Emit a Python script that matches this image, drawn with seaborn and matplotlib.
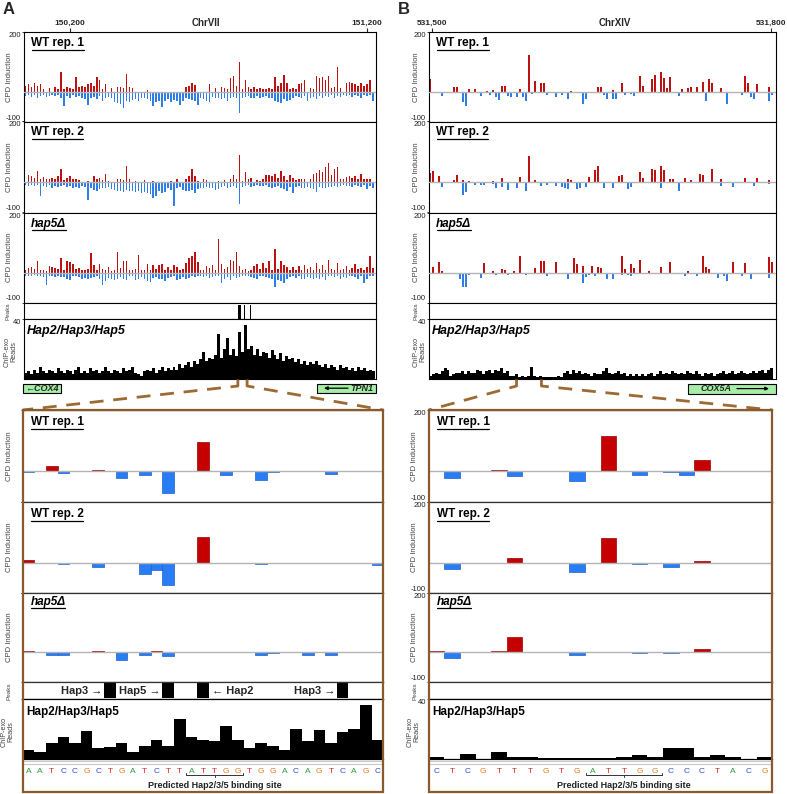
import numpy as np
import matplotlib
matplotlib.use("Agg")
import matplotlib.pyplot as plt
import seaborn as sns
from matplotlib.patches import Rectangle

# ======================= DATA =======================
# Panel A overview (ChrVII) - 10 bp bins
A_START, A_STEP = 150050, 10
A_XLIM = (150045, 151230)
A_TICKS = [150200, 151200]
A_TICK_LABELS = ["150,200", "151,200"]
A_CHROM = "ChrVII"

A_wt1_up = [20, 25, 15, 30, 20, 25, 10, 0, 12, 0,
            15, 10, 65, 8, 15, 12, 10, 50, 15, 20,
            15, 25, 30, 20, 48, 40, 10, 25, 0, 12,
            0, 15, 15, 12, 58, 15, 12, 0, 0, 0,
            0, 5, 0, 0, 0, 0, 0, 0, 0, 0,
            0, 0, 0, 0, 15, 20, 28, 22, 0, 0,
            0, 0, 25, 0, 12, 0, 15, 12, 8, 45,
            52, 20, 98, 10, 38, 15, 10, 15, 8, 12,
            10, 8, 12, 10, 50, 20, 30, 55, 28, 10,
            12, 10, 25, 30, 40, 0, 12, 10, 52, 45,
            50, 38, 54, 12, 15, 82, 12, 0, 30, 32,
            28, 25, 20, 30, 18, 25, 40, 0]
A_wt1_dn = [15, 12, 18, 10, 20, 15, 12, 18, 15, 10,
            15, 12, 20, 48, 15, 20, 12, 18, 15, 20,
            25, 45, 20, 18, 25, 15, 30, 20, 18, 22,
            35, 38, 40, 54, 30, 35, 28, 25, 30, 22,
            20, 25, 30, 48, 35, 30, 53, 30, 25, 35,
            28, 30, 45, 30, 20, 25, 28, 30, 45, 20,
            25, 30, 35, 18, 22, 20, 25, 20, 30, 22,
            18, 20, 73, 20, 18, 15, 20, 22, 15, 20,
            18, 15, 20, 22, 30, 35, 38, 25, 30, 28,
            20, 15, 18, 22, 15, 30, 20, 18, 25, 15,
            20, 15, 18, 12, 20, 15, 18, 12, 15, 10,
            18, 12, 15, 20, 12, 15, 10, 30]
A_wt2_up = [0, 22, 20, 15, 36, 10, 18, 10, 12, 15,
            10, 20, 45, 8, 15, 20, 10, 12, 8, 0,
            0, 5, 0, 20, 10, 15, 8, 28, 5, 0,
            0, 10, 12, 8, 53, 10, 0, 5, 0, 0,
            8, 0, 0, 5, 0, 0, 0, 0, 0, 5,
            0, 10, 0, 0, 12, 20, 45, 20, 5, 0,
            10, 8, 0, 0, 0, 5, 0, 8, 0, 10,
            25, 12, 88, 5, 34, 10, 15, 0, 8, 5,
            10, 22, 25, 20, 28, 15, 37, 20, 8, 22,
            15, 8, 10, 12, 10, 0, 12, 28, 30, 40,
            35, 50, 62, 25, 45, 50, 10, 12, 18, 20,
            15, 20, 12, 26, 10, 12, 10, 0]
A_wt2_dn = [10, 12, 8, 11, 10, 47, 12, 15, 10, 18,
            12, 15, 12, 10, 15, 12, 18, 15, 20, 12,
            15, 59, 20, 25, 28, 22, 18, 20, 15, 22,
            25, 30, 28, 32, 25, 30, 28, 32, 30, 35,
            32, 35, 38, 51, 47, 30, 35, 32, 20, 25,
            79, 20, 15, 25, 28, 30, 25, 36, 22, 20,
            18, 15, 20, 18, 25, 22, 15, 12, 18, 15,
            12, 20, 73, 15, 12, 10, 15, 12, 10, 14,
            12, 10, 15, 18, 15, 12, 20, 22, 30, 15,
            35, 15, 12, 18, 20, 15, 18, 22, 33, 15,
            18, 20, 17, 15, 12, 15, 12, 10, 14, 12,
            15, 10, 12, 15, 10, 22, 12, 20]
A_hap5_up = [10, 15, 17, 12, 37, 10, 8, 5, 22, 20,
             15, 12, 47, 10, 37, 34, 30, 12, 15, 10,
             8, 12, 64, 25, 10, 30, 12, 8, 20, 5,
             10, 70, 15, 40, 40, 10, 8, 12, 60, 10,
             8, 28, 10, 25, 12, 25, 28, 10, 17, 8,
             25, 20, 8, 12, 32, 50, 56, 70, 34, 8,
             10, 22, 15, 25, 10, 113, 30, 12, 20, 42,
             40, 70, 22, 8, 12, 5, 10, 22, 28, 12,
             32, 15, 40, 10, 79, 12, 40, 25, 20, 10,
             17, 8, 22, 10, 25, 12, 17, 10, 32, 12,
             25, 10, 42, 12, 8, 32, 10, 12, 22, 10,
             15, 28, 12, 14, 10, 20, 56, 15]
A_hap5_dn = [11, 10, 12, 8, 10, 12, 15, 40, 12, 10,
             15, 12, 14, 15, 22, 25, 12, 10, 15, 20,
             18, 22, 18, 15, 12, 20, 43, 28, 18, 22,
             25, 20, 15, 22, 25, 12, 10, 25, 20, 15,
             22, 28, 32, 17, 15, 22, 20, 28, 18, 15,
             12, 25, 20, 15, 20, 18, 12, 15, 12, 10,
             15, 12, 18, 14, 12, 10, 34, 20, 15, 25,
             12, 18, 15, 10, 12, 10, 15, 18, 20, 12,
             10, 15, 18, 20, 49, 25, 28, 34, 20, 15,
             12, 18, 10, 20, 22, 15, 18, 20, 18, 22,
             15, 25, 12, 10, 15, 12, 20, 15, 18, 10,
             12, 15, 22, 12, 34, 20, 10, 12]
A_chip = [4, 5, 3, 6, 4, 8, 5, 4, 6, 5,
          4, 7, 5, 4, 6, 5, 3, 6, 8, 4,
          5, 4, 7, 5, 6, 4, 5, 8, 5, 4,
          6, 5, 4, 7, 5, 6, 8, 4, 3, 2,
          5, 6, 5, 7, 4, 6, 8, 5, 7, 6,
          8, 6, 10, 7, 9, 11, 8, 12, 10, 13,
          18, 12, 14, 13, 16, 30, 14, 20, 27, 16,
          20, 15, 31, 18, 36, 20, 22, 16, 20, 15,
          18, 17, 14, 19, 16, 13, 17, 12, 15, 13,
          14, 11, 13, 10, 12, 9, 11, 10, 12, 9,
          8, 10, 7, 9, 8, 6, 9, 7, 8, 6,
          7, 5, 8, 6, 7, 5, 6, 5]
A_peaks = [150766, 150770, 150774, 150788, 150807]
A_ZOOM = (150765, 150796)

# Panel B overview (ChrXIV)
B_START, B_STEP, B_N = 531498.5, 2.65, 115
B_XLIM = (531497.6, 531804.4)
B_TICKS = [531500, 531800]
B_TICK_LABELS = ["531,500", "531,800"]
B_CHROM = "ChrXIV"

B_wt1_up_idx = [0, 8, 9, 13, 15, 19, 21, 24, 25, 30, 33, 35, 37, 38, 47, 56, 57, 61, 64,
                70, 71, 74, 75, 77, 78, 79, 80, 84, 86, 87, 89, 91, 93, 94, 97, 105, 106, 109, 113]
B_wt1_up = [42, 14, 14, 9, 9, 3, 5, 18, 18, 9, 122, 37, 28, 28, 3, 17, 17, 5, 28,
            53, 20, 42, 56, 65, 45, 11, 49, 9, 11, 17, 17, 34, 43, 28, 11, 52, 28, 25, 14]
B_wt1_dn_idx = [4, 11, 12, 17, 20, 22, 23, 26, 27, 29, 31, 32, 34, 39, 42, 44, 46, 51, 52, 54,
                58, 59, 61, 62, 65, 67, 68, 74, 77, 83, 92, 99, 102, 104, 107, 108, 113, 114]
B_wt1_dn = [15, 36, 49, 15, 11, 19, 28, 14, 19, 19, 19, 32, 8, 11, 19, 11, 25, 43, 26, 6,
            11, 25, 23, 23, 11, 9, 14, 6, 6, 14, 30, 40, 6, 11, 19, 26, 32, 11]
B_wt2_up_idx = [0, 1, 3, 8, 9, 11, 13, 21, 24, 30, 33, 35, 46, 47, 53, 55, 56, 63, 64, 70,
                71, 74, 75, 77, 78, 80, 81, 85, 87, 90, 91, 94, 97, 105, 109, 113]
B_wt2_up = [30, 36, 19, 8, 22, 8, 3, 5, 14, 17, 85, 8, 10, 6, 17, 40, 53, 20, 22, 34,
            15, 45, 40, 53, 40, 11, 9, 14, 8, 28, 22, 42, 11, 15, 14, 6]
B_wt2_dn_idx = [4, 11, 12, 15, 17, 18, 21, 22, 24, 26, 29, 32, 37, 39, 42, 44, 45, 46, 49, 50,
                52, 58, 61, 66, 67, 77, 83, 97, 101, 108, 113]
B_wt2_dn = [17, 43, 34, 8, 9, 8, 6, 19, 17, 25, 19, 28, 11, 8, 11, 17, 19, 23, 23, 19,
            17, 19, 19, 23, 17, 19, 28, 11, 15, 14, 6]
B_hap5_up_idx = [1, 3, 4, 18, 21, 24, 25, 28, 30, 35, 37, 38, 42, 48, 49, 51, 54, 56, 57, 64,
                 65, 67, 68, 70, 73, 77, 80, 86, 91, 92, 93, 101, 105, 113, 114]
B_hap5_up = [20, 34, 6, 32, 6, 11, 8, 6, 54, 14, 40, 40, 36, 49, 28, 23, 23, 20, 14, 54,
             11, 28, 14, 43, 6, 20, 36, 6, 54, 17, 11, 34, 31, 51, 34]
B_hap5_dn_idx = [2, 10, 11, 12, 13, 17, 22, 26, 28, 32, 39, 46, 51, 52, 53, 55, 59, 61, 64, 66,
                 67, 74, 76, 79, 81, 85, 89, 96, 98, 99, 104, 107, 113]
B_hap5_dn = [6, 23, 47, 47, 8, 17, 8, 8, 6, 8, 11, 20, 36, 14, 9, 11, 20, 20, 8, 8,
             11, 3, 6, 6, 6, 11, 11, 17, 11, 28, 11, 20, 17]
B_chip = [2, 3, 4, 3, 5, 7, 6, 2, 3, 4,
          4, 5, 3, 5, 4, 4, 6, 5, 3, 5,
          6, 4, 6, 5, 7, 4, 5, 2, 2, 3,
          1, 2, 1, 2, 8, 2, 1, 2, 1, 1,
          1, 1, 1, 2, 1, 4, 5, 3, 6, 4,
          5, 3, 4, 3, 2, 4, 3, 3, 5, 7,
          4, 3, 4, 5, 3, 4, 2, 3, 2, 3,
          2, 3, 2, 3, 4, 2, 3, 5, 3, 4,
          3, 5, 4, 3, 4, 3, 5, 4, 3, 5,
          3, 2, 4, 3, 4, 2, 3, 4, 5, 3,
          4, 5, 3, 4, 5, 4, 3, 4, 5, 4,
          5, 6, 4, 6, 7]
B_peaks = []
B_ZOOM = (531575, 531597)

# Zoomed-in views (one value per nucleotide)
A_seq = "AATCCGCTGATCTTATTGGTGGACAGTCAGC"
A_site = (14, 18)
A_z_wt1 = [-3, 0, 16, -6, 0, 0, 3, 0, -23, 0, -13, 0, -72, 0, 0, 95, 0, -13, 0, 0,
           -27, -2, 0, 0, 0, 0, -10, 0, 0, 0, 0]
A_z_wt2 = [9, 0, 0, -4, 0, 0, -13, 0, 0, 0, -37, -24, -75, 0, 0, 84, 0, 0, 0, 0,
           -6, 0, 0, 0, 0, 0, 0, 0, 0, 0, -9]
A_z_hap5 = [4, 0, -10, -8, 0, 0, 3, 0, -27, 0, -8, 3, -11, 0, 0, 0, 0, 0, 0, 0,
            -10, -3, 0, 0, -8, 0, -8, 0, 0, 0, 0]
A_z_chip = [6.1, 4.9, 10.6, 14.4, 10.6, 18.9, 7.2, 7.9, 10.6, 4.9,
            8.5, 13, 8.8, 26.8, 14.4, 12.4, 11.7, 22.3, 12.4, 7.6,
            10.6, 8.5, 6.1, 20.3, 11.7, 19.6, 10.6, 18, 20.3, 36, 13]
A_z_peaks = [7, 12, 15, 27]
A_z_peak_labels = ["Hap3 \u2192", "Hap5 \u2192", "\u2190 Hap2", "Hap3 \u2192"]

B_seq = "CTCGTTTGTGATTGGCCCTACG"
B_site = (10, 14)
B_z_wt1 = [0, -21, 0, 0, 5, -16, 0, 0, 0, -30, 0, 116, 0, -11, 0, -3, -13, 36, 0, 0, 0, 0]
B_z_wt2 = [0, -21, 0, 0, -2, 14, 0, 0, 0, -32, 0, 80, 0, -6, 0, -13, 0, 7, 0, 0, 0, 0]
B_z_hap5 = [3, -19, 0, 0, 3, 53, 0, 0, 0, -10, 0, 0, 0, -2, 0, -2, 0, 12, 0, 0, 0, 0]
B_z_chip = [1.1, 0.3, 3.4, 0.3, 4.9, 1.1, 1.1, 1.0, 1.0, 0.5, 0.5,
            1.0, 1.4, 2.4, 1.1, 7.6, 7.6, 1.1, 2.7, 1.1, 0.2, 1.1]
B_z_peaks = []
B_z_peak_labels = []

TRACK_LABELS = ["WT rep. 1", "WT rep. 2", "hap5\u0394"]
CHIP_LABEL = "Hap2/Hap3/Hap5"
SITE_LABEL = "Predicted Hap2/3/5 binding site"

# ======================= STYLE =======================
sns.set_theme(style="white")
plt.rcParams["font.family"] = ["Liberation Sans", "DejaVu Sans"]

W, H = 787, 794
fig = plt.figure(figsize=(W / 100, H / 100), dpi=100)

RED_T, BLUE_T = "#bd1212", "#2f7de6"
RED_Z, BLUE_Z = "#c40000", "#2a7cf5"
ZERO = "#b4b4b4"
BROWN = "#8b5a2b"
DASH = "#9c6a33"
LABEL_C = "#444444"
SEQ_COL = {"A": "#2f9e3a", "C": "#3450c4", "G": "#e07b22", "T": "#d22b2b"}


def add_ax(x0, y0, x1, y1):
    ax = fig.add_axes([x0 / W, 1 - y1 / H, (x1 - x0) / W, (y1 - y0) / H])
    ax.set_facecolor("white")
    return ax


def frame(ax, sides="lrtb", color="black", lw=0.8):
    m = {"left": "l", "right": "r", "top": "t", "bottom": "b"}
    for k, sp in ax.spines.items():
        sp.set_visible(m[k] in sides)
        sp.set_color(color)
        sp.set_linewidth(lw)


def draw_bars(ax, pos, vals, color, width=1.0, lw=0.0, ec=None):
    n0 = len(ax.patches)
    sns.barplot(x=np.asarray(pos, float), y=np.asarray(vals, float), native_scale=True,
                orient="x", width=width, color=color, saturation=1, errorbar=None,
                linewidth=lw, edgecolor=ec or color, ax=ax)
    for p in ax.patches[n0:]:
        if abs(p.get_height()) < 1e-9:
            p.set_visible(False)


def ylab(ax, text, dx_px, fs=5.5, yfrac=0.5):
    ax.set_ylabel(text, fontsize=fs, color=LABEL_C, linespacing=0.95)
    w_px = ax.get_position().width * W
    ax.yaxis.set_label_coords(-dx_px / w_px, yfrac)


def cpd_track(ax, pos, up, dn, width, xlim, red, blue, dx, lw=0.0):
    draw_bars(ax, pos, up, red, width, lw, None if lw == 0 else "#9a0000")
    draw_bars(ax, pos, -np.asarray(dn, float), blue, width, lw, None if lw == 0 else "#1a62d0")
    ax.axhline(0, color=ZERO, lw=1.0, zorder=3)
    ax.set_xlim(*xlim)
    ax.set_ylim(-100, 200)
    ax.set_xticks([])
    ax.set_xlabel("")
    ax.set_yticks([-100, 200])
    labs = ax.set_yticklabels(["-100", "200"], fontsize=5.5, color="#222222")
    labs[0].set_va("bottom")
    labs[1].set_va("top")
    ax.tick_params(axis="y", left=True, length=1.5, width=0.6, pad=0.6)
    ylab(ax, "CPD Induction", dx)


def dense(idx, vals, n):
    arr = np.zeros(n)
    arr[np.asarray(idx, int)] = vals
    return arr


TRACK_Y = [(32, 121.5), (121.5, 212.5), (212.5, 302.5)]
PEAK_Y = (302.5, 319)
CHIP_Y = (319, 379)
ZTRACK_Y = [(410, 502), (502, 593), (593, 682)]
ZPEAK_Y = (682, 699)
ZCHIP_Y = (699, 759)
SEQ_Y = (759, 792)

labels_to_draw = []   # (x, y, text, kwargs, underline)


def overview(L, R, xlim, pos, tracks, chip, peaks, ticks, ticklabels, dx_cpd, dx_peak, dx_chip, barw):
    axes = []
    for k, ((y0, y1), (up, dn)) in enumerate(zip(TRACK_Y, tracks)):
        ax = add_ax(L, y0, R, y1)
        cpd_track(ax, pos, up, dn, barw, xlim, RED_T, BLUE_T, dx_cpd)
        frame(ax)
        axes.append(ax)
        it = (k == 2)
        labels_to_draw.append((L + 7, y0 + 14, TRACK_LABELS[k],
                               dict(fontsize=8.5, fontweight="bold", style="italic" if it else "normal"), True))
    ax0 = axes[0]
    ax0.set_xticks(ticks)
    ax0.set_xticklabels(ticklabels, fontsize=6, fontweight="bold")
    ax0.tick_params(axis="x", top=True, bottom=False, labeltop=True, labelbottom=False,
                    length=3, width=0.8, pad=0.5)
    # peaks
    axp = add_ax(L, PEAK_Y[0], R, PEAK_Y[1])
    if len(peaks):
        draw_bars(axp, peaks, [1] * len(peaks), "black", 1.0)
    axp.set_xlim(*xlim)
    axp.set_ylim(0, 1.15)
    axp.set_xticks([])
    axp.set_yticks([])
    axp.set_xlabel("")
    ylab(axp, "Peaks", dx_peak, 4.6, 0.46)
    frame(axp)
    # chip
    axc = add_ax(L, CHIP_Y[0], R, CHIP_Y[1])
    draw_bars(axc, pos, chip, "black", 1.0)
    axc.set_xlim(*xlim)
    axc.set_ylim(0, 40)
    axc.set_xticks([])
    axc.set_xlabel("")
    axc.set_yticks([40])
    lab = axc.set_yticklabels(["40"], fontsize=5.5, color="#222222")
    lab[0].set_va("top")
    axc.tick_params(axis="y", left=True, length=1.5, width=0.6, pad=0.6)
    ylab(axc, "ChIP-exo\nReads", dx_chip, 5.2, 0.45)
    frame(axc)
    labels_to_draw.append((L + 3, CHIP_Y[0] + 15, CHIP_LABEL,
                           dict(fontsize=9, fontweight="bold", style="italic"), False))
    return axc


def zoomed(L, R, tracks, chip, peaks, peak_labels, seq, site, dx, show_ticklabels):
    n = len(seq)
    pos = np.arange(n)
    xlim = (-0.5, n - 0.5)
    for k, ((y0, y1), v) in enumerate(zip(ZTRACK_Y, tracks)):
        v = np.asarray(v, float)
        ax = add_ax(L, y0, R, y1)
        cpd_track(ax, pos, np.clip(v, 0, None), -np.clip(v, None, 0), 1.0, xlim, RED_Z, BLUE_Z, dx, lw=0.5)
        if not show_ticklabels:
            ax.set_yticklabels([])
        frame(ax, "tb", "#333333", 0.9)
        it = (k == 2)
        labels_to_draw.append((L + 8, y0 + 15 if k < 2 else y0 + 11.5, TRACK_LABELS[k],
                               dict(fontsize=8.5, fontweight="bold", style="italic" if it else "normal"), True))
    # peaks
    axp = add_ax(L, ZPEAK_Y[0], R, ZPEAK_Y[1])
    pk = np.zeros(n)
    pk[list(peaks)] = 1
    draw_bars(axp, pos, pk, "black", 1.0)
    axp.set_xlim(*xlim)
    axp.set_ylim(-0.08, 1.05)
    axp.set_xticks([])
    axp.set_yticks([])
    axp.set_xlabel("")
    ylab(axp, "Peaks", dx + 1, 4.6, 0.46)
    frame(axp, "tb", "#333333", 0.9)
    for p, t in zip(peaks, peak_labels):
        if t.startswith("\u2190"):
            axp.text(p + 0.75, 0.45, t, ha="left", va="center", fontsize=8, fontweight="bold")
        else:
            axp.text(p - 0.65, 0.45, t, ha="right", va="center", fontsize=8, fontweight="bold")
    # chip
    axc = add_ax(L, ZCHIP_Y[0], R, ZCHIP_Y[1])
    draw_bars(axc, pos, chip, "black", 1.0)
    axc.set_xlim(*xlim)
    axc.set_ylim(0, 40)
    axc.set_xticks([])
    axc.set_xlabel("")
    axc.set_yticks([40])
    lab = axc.set_yticklabels(["40" if show_ticklabels else ""], fontsize=5.5, color="#222222")
    lab[0].set_va("top")
    axc.tick_params(axis="y", left=True, length=1.5, width=0.6, pad=0.6)
    ylab(axc, "ChIP-exo\nReads", dx - 2, 5.2, 0.45)
    frame(axc, "tb", "black", 0.9)
    labels_to_draw.append((L + 4, ZCHIP_Y[0] + 16, CHIP_LABEL,
                           dict(fontsize=8.5, fontweight="bold"), False))
    # sequence
    axs = add_ax(L, SEQ_Y[0], R, SEQ_Y[1])
    axs.set_xlim(*xlim)
    axs.set_ylim(SEQ_Y[1] - SEQ_Y[0], 0)
    axs.axis("off")
    axs.plot(xlim, [1.6, 1.6], color="#c8c8c8", lw=0.8)
    axs.plot(xlim, [4.6, 4.6], color="#c8c8c8", lw=0.8)
    for i, ch in enumerate(seq):
        axs.text(i, 12.2, ch, ha="center", va="center", fontsize=6, color=SEQ_COL[ch])
    a, b = site[0] - 0.45, site[1] + 0.45
    mid = (site[0] + site[1]) / 2
    axs.plot([a, a, b, b], [13.6, 16.2, 16.2, 13.6], color="#333333", lw=0.7)
    axs.plot([mid, mid], [16.2, 18.4], color="#333333", lw=0.7)
    axs.text(mid, 26.2, SITE_LABEL, ha="center", va="center", fontsize=6.5, fontweight="bold",
             color="#222222")


# ---------- build panels ----------
A_pos = A_START + A_STEP * np.arange(len(A_wt1_up))
B_pos = B_START + B_STEP * np.arange(B_N)

axA_chip = overview(24, 376, A_XLIM, A_pos,
                    [(A_wt1_up, A_wt1_dn), (A_wt2_up, A_wt2_dn), (A_hap5_up, A_hap5_dn)],
                    A_chip, A_peaks, A_TICKS, A_TICK_LABELS, 11, 13, 7, 0.5)
B_tracks = [(dense(B_wt1_up_idx, B_wt1_up, B_N), dense(B_wt1_dn_idx, B_wt1_dn, B_N)),
            (dense(B_wt2_up_idx, B_wt2_up, B_N), dense(B_wt2_dn_idx, B_wt2_dn, B_N)),
            (dense(B_hap5_up_idx, B_hap5_up, B_N), dense(B_hap5_dn_idx, B_hap5_dn, B_N))]
axB_chip = overview(429, 776, B_XLIM, B_pos, B_tracks, B_chip, B_peaks, B_TICKS, B_TICK_LABELS,
                    9, 11, 3, 0.7)

AZ_L, AZ_R = 22.7, 383.3
BZ_L, BZ_R = 428.7, 772.3
zoomed(AZ_L, AZ_R, [A_z_wt1, A_z_wt2, A_z_hap5], A_z_chip, A_z_peaks, A_z_peak_labels,
       A_seq, A_site, 10, False)
zoomed(BZ_L, BZ_R, [B_z_wt1, B_z_wt2, B_z_hap5], B_z_chip, B_z_peaks, B_z_peak_labels,
       B_seq, B_site, 10.5, True)

# ---------- overlay ----------
ov = fig.add_axes([0, 0, 1, 1])
ov.set_xlim(0, W)
ov.set_ylim(H, 0)
ov.axis("off")

ov.text(3, 2, "A", fontsize=12, fontweight="bold", ha="left", va="top")
ov.text(398, 2, "B", fontsize=12, fontweight="bold", ha="left", va="top")
ov.text(206, 22.5, A_CHROM, fontsize=7, fontweight="bold", ha="center", va="center")
ov.text(615, 22.5, B_CHROM, fontsize=7, fontweight="bold", ha="center", va="center")


def to_px(ax, x, y):
    dx, dy = ax.transData.transform((x, y))
    return dx, H - dy


def connectors(ax, rng, zl, zr):
    for bp, corner in ((rng[0], zl), (rng[1], zr)):
        x, y = to_px(ax, bp, 0)
        ov.plot([x, x, corner], [y + 0.5, y + 7, 410], color=DASH, lw=2.0,
                linestyle=(0, (5, 3.5)), solid_capstyle="butt")


connectors(axA_chip, A_ZOOM, AZ_L, AZ_R)
connectors(axB_chip, B_ZOOM, BZ_L, BZ_R)

for l, r in ((AZ_L, AZ_R), (BZ_L, BZ_R)):
    ov.add_patch(Rectangle((l, 410), r - l, 382, fill=False, ec=BROWN, lw=1.6, zorder=5))

GENE_FC = "#a6eda6"
ov.add_patch(Rectangle((23, 383.5), 38, 9.5, fc=GENE_FC, ec="black", lw=0.8))
ov.text(42, 388.4, "\u2190COX4", fontsize=6.5, fontweight="bold", style="italic", ha="center", va="center")
ov.add_patch(Rectangle((317, 383.5), 59, 9.5, fc=GENE_FC, ec="black", lw=0.8))
ov.annotate("", xy=(324, 388.2), xytext=(348, 388.2),
            arrowprops=dict(arrowstyle="-|>", lw=0.9, color="black", mutation_scale=5, shrinkA=0, shrinkB=0))
ov.text(362, 388.4, "TPN1", fontsize=6.5, fontweight="bold", style="italic", ha="center", va="center")
ov.add_patch(Rectangle((688, 383.5), 88, 10, fc=GENE_FC, ec="black", lw=0.8))
ov.text(716, 388.6, "COX5A", fontsize=6.5, fontweight="bold", style="italic", ha="center", va="center")
ov.annotate("", xy=(769, 388.6), xytext=(737, 388.6),
            arrowprops=dict(arrowstyle="-|>", lw=0.9, color="black", mutation_scale=5, shrinkA=0, shrinkB=0))

ul = []
for x, y, t, kw, u in labels_to_draw:
    txt = ov.text(x, y, t, ha="left", va="baseline", color="black", **kw)
    if u:
        ul.append(txt)

fig.canvas.draw()
rend = fig.canvas.get_renderer()
for txt in ul:
    bb = txt.get_window_extent(rend)
    yy = H - bb.y0 + 0.6
    ov.plot([bb.x0 + 0.5, bb.x1 - 0.5], [yy, yy], color="black", lw=0.9)

fig.savefig("out.png", dpi=100)
